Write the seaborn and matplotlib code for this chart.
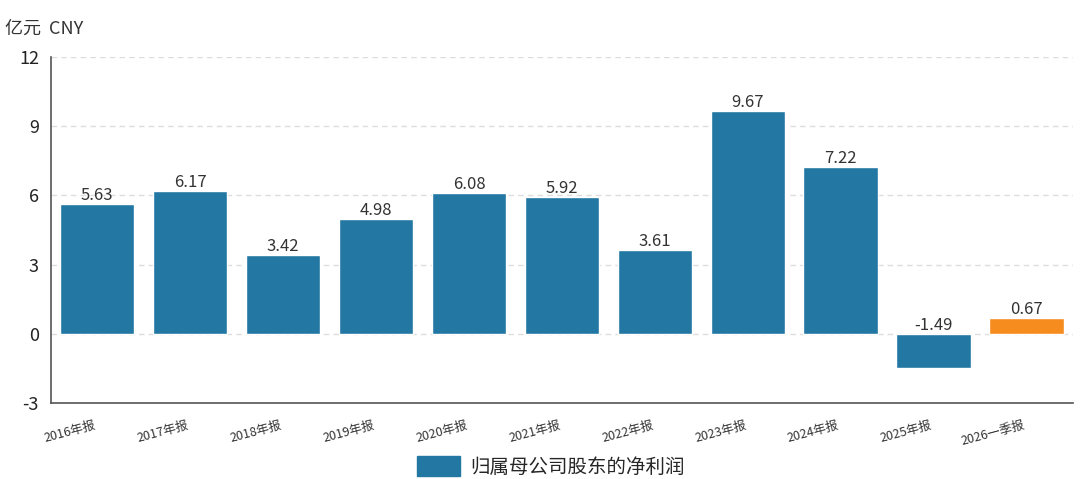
import seaborn as sns
import matplotlib.pyplot as plt
import matplotlib.patches as mpatches
import pandas as pd

# data
periods = ['2016年报', '2017年报', '2018年报', '2019年报', '2020年报', '2021年报',
           '2022年报', '2023年报', '2024年报', '2025年报', '2026一季报']
net_profit = [5.63, 6.17, 3.42, 4.98, 6.08, 5.92, 3.61, 9.67, 7.22, -1.49, 0.67]
bar_colors = ['#2277a3'] * 10 + ['#f68b1e']

df = pd.DataFrame({'period': periods, 'value': net_profit})

sns.set_style('white')
plt.rcParams['font.family'] = ['Noto Sans CJK SC', 'DejaVu Sans']
plt.rcParams['axes.unicode_minus'] = False

fig = plt.figure(figsize=(10.8, 4.79), dpi=100)
ax = fig.add_axes([0.047, 0.159, 0.9465, 0.722])

sns.barplot(data=df, x='period', y='value', hue='period', palette=bar_colors,
            legend=False, width=0.8, saturation=1, ax=ax, zorder=3)

# value labels: always drawn above the bar's upper edge (0 for negative bars)
for c in ax.containers:
    for p in c:
        h = p.get_height()
        top = max(h, 0)
        ax.annotate(f'{h:.2f}', (p.get_x() + p.get_width() / 2, top),
                    xytext=(0, 0), textcoords='offset points',
                    ha='center', va='bottom', fontsize=12, color='#333333')

ax.set_xlim(-0.5, 10.5)
ax.set_ylim(-3, 12)
ax.set_yticks([-3, 0, 3, 6, 9, 12])
for y in [0, 3, 6, 9, 12]:
    ax.axhline(y, color='#dddddd', linestyle=(0, (4, 3)), linewidth=1, zorder=1)

ax.set_xlabel('')
ax.set_ylabel('')
ax.tick_params(axis='y', labelsize=13, length=5, width=1, color='#555555', labelcolor='#222222')
ax.tick_params(axis='x', labelsize=9, length=8, width=1, color='#555555', labelcolor='#333333')
plt.setp(ax.get_xticklabels(), rotation=15, ha='right')

for s in ['top', 'right']:
    ax.spines[s].set_visible(False)
for s in ['left', 'bottom']:
    ax.spines[s].set_color('#555555')
    ax.spines[s].set_linewidth(1.2)

fig.text(0.005, 0.94, '亿元  CNY', fontsize=13, color='#333333', ha='left', va='center')

handle = mpatches.Patch(color='#2277a3', label='归属母公司股东的净利润')
fig.legend(handles=[handle], loc='center', bbox_to_anchor=(0.51, 0.025),
           frameon=False, fontsize=14, handlelength=2.2, handleheight=1.2,
           handletextpad=0.5)

plt.savefig('out.png', dpi=100)
